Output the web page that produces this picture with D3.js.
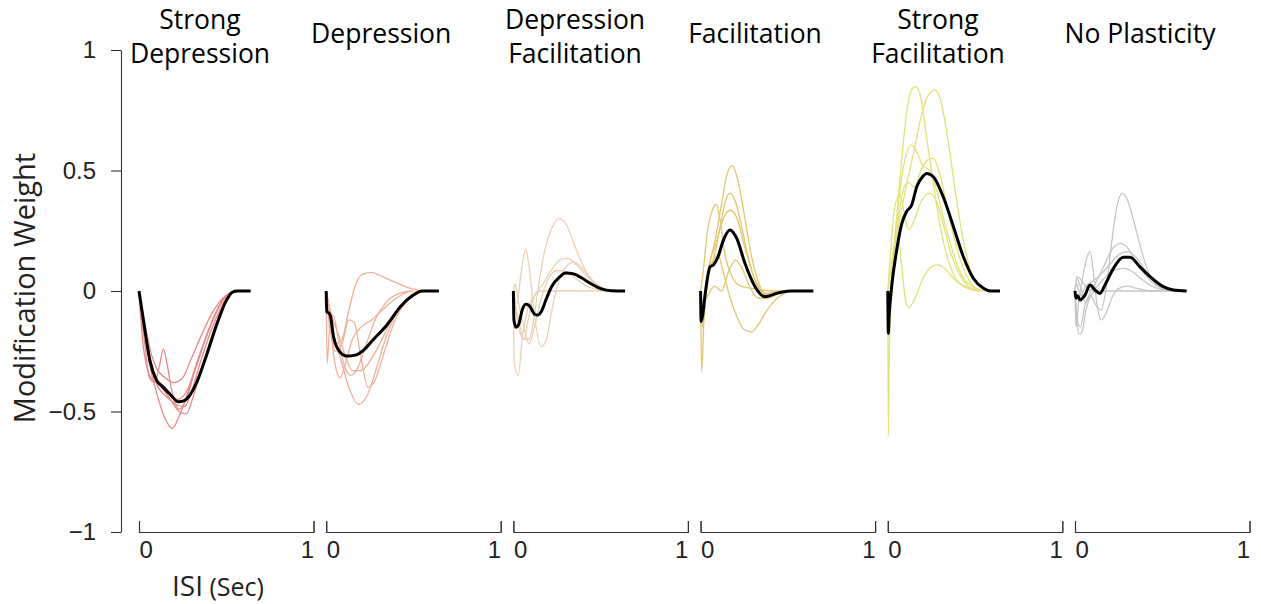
<!DOCTYPE html>
<html><head><meta charset="utf-8">
<script src="https://cdn.jsdelivr.net/npm/d3@7"></script>
<style>body{margin:0;background:#fff}</style>
</head><body><svg id="c" width="1261" height="604"></svg>
<script>
// ---------- data ----------
const panelTitles = [["Strong","Depression"],["Depression"],["Depression","Facilitation"],["Facilitation"],["Strong","Facilitation"],["No Plasticity"]];
const yTicks = [-1,-0.5,0,0.5,1];
const isiTicks = [0,1];
const panelColors = ["#e98a8a","#f0b09a","#e8d2b4","#e3c66e","#e2e27a","#c6c6c6"];

// Strong Depression
const meanStrongDep = [[0,0],[0.025,-0.12],[0.063,-0.29],[0.1,-0.37],[0.14,-0.4],[0.18,-0.43],[0.226,-0.46],[0.26,-0.455],[0.283,-0.44],[0.33,-0.38],[0.39,-0.26],[0.45,-0.13],[0.5,-0.04],[0.535,-0.005],[0.56,0],[0.64,0]];
const cellsStrongDep = [
 [[0,0],[0.03,-0.15],[0.06,-0.3],[0.1,-0.42],[0.15,-0.53],[0.19,-0.57],[0.23,-0.52],[0.28,-0.42],[0.33,-0.3],[0.39,-0.18],[0.45,-0.08],[0.5,-0.02],[0.55,0]],
 [[0,0],[0.03,-0.2],[0.06,-0.36],[0.09,-0.38],[0.12,-0.3],[0.14,-0.24],[0.16,-0.3],[0.19,-0.42],[0.23,-0.49],[0.27,-0.45],[0.32,-0.33],[0.38,-0.2],[0.44,-0.09],[0.5,-0.02],[0.55,0]],
 [[0,0],[0.03,-0.12],[0.07,-0.26],[0.1,-0.32],[0.15,-0.36],[0.2,-0.38],[0.25,-0.36],[0.3,-0.28],[0.36,-0.18],[0.42,-0.09],[0.48,-0.03],[0.55,0]],
 [[0,0],[0.03,-0.15],[0.07,-0.32],[0.11,-0.4],[0.16,-0.44],[0.21,-0.47],[0.26,-0.48],[0.3,-0.42],[0.35,-0.3],[0.41,-0.17],[0.47,-0.07],[0.52,-0.01],[0.56,0]],
 [[0,0],[0.04,-0.18],[0.08,-0.33],[0.13,-0.4],[0.18,-0.45],[0.23,-0.5],[0.27,-0.51],[0.31,-0.44],[0.36,-0.32],[0.42,-0.18],[0.48,-0.07],[0.53,-0.01],[0.57,0]],
 [[0,0],[0.02,-0.2],[0.05,-0.33],[0.08,-0.37],[0.12,-0.38],[0.17,-0.42],[0.22,-0.45],[0.27,-0.42],[0.32,-0.33],[0.38,-0.2],[0.44,-0.09],[0.5,-0.02],[0.55,0]]
];
// Depression
const meanDep = [[0,0],[0.003,-0.086],[0.012,-0.09],[0.023,-0.1],[0.042,-0.19],[0.071,-0.245],[0.119,-0.27],[0.167,-0.266],[0.215,-0.245],[0.272,-0.2],[0.349,-0.14],[0.425,-0.065],[0.5,-0.017],[0.55,0],[0.646,0]];
const cellsDep = [
 [[0,0],[0.02,-0.15],[0.05,-0.22],[0.09,-0.2],[0.13,-0.08],[0.17,0.03],[0.21,0.07],[0.26,0.077],[0.32,0.06],[0.4,0.035],[0.48,0.012],[0.55,0]],
 [[0,0],[0.02,-0.08],[0.05,-0.2],[0.09,-0.3],[0.13,-0.4],[0.185,-0.47],[0.23,-0.44],[0.28,-0.34],[0.33,-0.22],[0.39,-0.11],[0.46,-0.04],[0.53,0]],
 [[0,0],[0.005,-0.3],[0.02,-0.15],[0.04,-0.1],[0.07,-0.2],[0.1,-0.3],[0.14,-0.35],[0.18,-0.32],[0.23,-0.22],[0.28,-0.12],[0.34,-0.05],[0.42,-0.01],[0.5,0]],
 [[0,0],[0.02,-0.1],[0.05,-0.25],[0.09,-0.22],[0.13,-0.12],[0.16,-0.13],[0.2,-0.28],[0.24,-0.4],[0.28,-0.37],[0.33,-0.26],[0.39,-0.13],[0.46,-0.04],[0.53,0]],
 [[0,0],[0.02,-0.12],[0.05,-0.3],[0.08,-0.36],[0.11,-0.3],[0.15,-0.2],[0.2,-0.15],[0.26,-0.12],[0.32,-0.08],[0.4,-0.03],[0.48,0]],
 [[0,0],[0.03,-0.1],[0.07,-0.18],[0.11,-0.27],[0.15,-0.33],[0.2,-0.33],[0.26,-0.28],[0.32,-0.2],[0.38,-0.11],[0.45,-0.04],[0.52,0]]
];
// Depression Facilitation
const meanDepFac = [[0,0],[0.003,-0.12],[0.015,-0.15],[0.03,-0.14],[0.05,-0.08],[0.07,-0.055],[0.09,-0.06],[0.12,-0.095],[0.14,-0.1],[0.16,-0.085],[0.19,-0.03],[0.22,0.02],[0.26,0.055],[0.3,0.075],[0.34,0.072],[0.39,0.055],[0.44,0.032],[0.5,0.01],[0.56,0.001],[0.64,0]];
const cellsDepFac = [
 [[0,0],[0.01,-0.05],[0.03,-0.12],[0.06,-0.2],[0.09,-0.2],[0.12,-0.1],[0.15,0.05],[0.18,0.17],[0.22,0.26],[0.26,0.3],[0.3,0.28],[0.34,0.21],[0.39,0.12],[0.44,0.05],[0.5,0.012],[0.56,0]],
 [[0,0],[0.02,-0.05],[0.045,0.08],[0.07,0.175],[0.09,0.1],[0.12,-0.1],[0.16,-0.23],[0.19,-0.2],[0.22,-0.08],[0.26,0.04],[0.3,0.1],[0.35,0.12],[0.4,0.09],[0.46,0.04],[0.52,0.01],[0.57,0]],
 [[0,0],[0.005,-0.3],[0.028,-0.35],[0.05,-0.2],[0.08,-0.08],[0.12,-0.02],[0.17,0.03],[0.22,0.09],[0.27,0.13],[0.31,0.135],[0.36,0.11],[0.41,0.07],[0.47,0.03],[0.53,0.008],[0.58,0]],
 [[0,0],[0.01,0.03],[0.03,-0.05],[0.06,-0.15],[0.09,-0.22],[0.12,-0.15],[0.16,-0.03],[0.2,0.05],[0.25,0.085],[0.3,0.08],[0.36,0.05],[0.42,0.02],[0.5,0.005],[0.56,0]],
 [[0,0],[0.01,-0.05],[0.03,-0.15],[0.06,-0.2],[0.09,-0.1],[0.12,-0.02],[0.16,0],[0.6,0]]
];
// Facilitation
const meanFac = [[0,0],[0.003,-0.127],[0.012,-0.1],[0.025,-0.02],[0.054,0.1],[0.073,0.108],[0.1,0.142],[0.13,0.21],[0.168,0.253],[0.207,0.218],[0.254,0.115],[0.312,0.018],[0.369,-0.024],[0.436,-0.01],[0.512,0],[0.646,0]];
const cellsFac = [
 [[0,0],[0.01,-0.05],[0.04,0.08],[0.08,0.2],[0.12,0.36],[0.15,0.48],[0.18,0.52],[0.21,0.47],[0.25,0.32],[0.29,0.15],[0.33,0.04],[0.38,-0.02],[0.44,-0.01],[0.5,0],[0.56,0]],
 [[0,0],[0.01,-0.15],[0.04,0.05],[0.08,0.15],[0.12,0.3],[0.15,0.39],[0.17,0.405],[0.2,0.37],[0.24,0.25],[0.28,0.12],[0.32,0.03],[0.37,-0.01],[0.44,-0.005],[0.52,0]],
 [[0,0],[0.006,-0.335],[0.02,-0.1],[0.05,0.1],[0.09,0.2],[0.13,0.3],[0.17,0.335],[0.21,0.3],[0.25,0.19],[0.3,0.07],[0.35,0],[0.4,-0.02],[0.47,-0.005],[0.54,0]],
 [[0,0],[0.01,0.05],[0.04,0.25],[0.07,0.34],[0.09,0.36],[0.11,0.3],[0.14,0.15],[0.18,0.06],[0.23,0.02],[0.3,0.01],[0.4,0],[0.5,0]],
 [[0,0],[0.01,-0.05],[0.04,-0.02],[0.08,0.02],[0.12,0],[0.16,0.08],[0.2,0.128],[0.24,0.09],[0.28,0.02],[0.33,-0.03],[0.38,-0.03],[0.45,-0.01],[0.52,0]],
 [[0,0],[0.01,-0.1],[0.04,0.05],[0.07,0.12],[0.1,0.15],[0.13,0.08],[0.17,-0.03],[0.21,-0.11],[0.25,-0.16],[0.29,-0.17],[0.33,-0.14],[0.38,-0.08],[0.44,-0.03],[0.5,-0.005],[0.56,0]]
];
// Strong Facilitation
const meanStrongFac = [[0,0],[0.003,-0.176],[0.008,-0.1],[0.022,0.018],[0.051,0.17],[0.08,0.28],[0.108,0.33],[0.137,0.357],[0.166,0.433],[0.2,0.475],[0.223,0.488],[0.261,0.474],[0.318,0.39],[0.376,0.267],[0.433,0.142],[0.49,0.053],[0.548,0.011],[0.586,0],[0.643,0]];
const cellsStrongFac = [
 [[0,0],[0.005,-0.1],[0.02,0.05],[0.05,0.3],[0.08,0.55],[0.11,0.75],[0.14,0.84],[0.16,0.848],[0.19,0.8],[0.22,0.65],[0.26,0.45],[0.3,0.27],[0.35,0.12],[0.4,0.04],[0.46,0.01],[0.53,0]],
 [[0,0],[0.003,-0.6],[0.01,-0.2],[0.03,0.1],[0.07,0.3],[0.11,0.45],[0.15,0.58],[0.19,0.72],[0.23,0.81],[0.27,0.834],[0.3,0.8],[0.34,0.65],[0.38,0.45],[0.42,0.26],[0.46,0.12],[0.5,0.04],[0.55,0.01],[0.6,0]],
 [[0,0],[0.01,-0.05],[0.04,0.2],[0.07,0.42],[0.1,0.55],[0.137,0.606],[0.17,0.57],[0.2,0.52],[0.24,0.5],[0.28,0.42],[0.32,0.3],[0.37,0.17],[0.42,0.07],[0.48,0.02],[0.54,0]],
 [[0,0],[0.01,-0.1],[0.04,0.15],[0.07,0.35],[0.1,0.44],[0.12,0.45],[0.15,0.43],[0.19,0.5],[0.23,0.545],[0.26,0.55],[0.3,0.48],[0.34,0.35],[0.38,0.22],[0.43,0.1],[0.48,0.03],[0.54,0]],
 [[0,0],[0.01,0.1],[0.04,0.35],[0.07,0.4],[0.1,0.3],[0.12,0.255],[0.15,0.29],[0.19,0.37],[0.24,0.405],[0.28,0.37],[0.32,0.27],[0.36,0.16],[0.41,0.07],[0.46,0.02],[0.52,0]],
 [[0,0],[0.01,0.05],[0.04,0.2],[0.06,0.22],[0.08,0.1],[0.1,-0.03],[0.12,-0.07],[0.15,-0.04],[0.2,0.05],[0.25,0.1],[0.29,0.108],[0.33,0.09],[0.38,0.05],[0.44,0.02],[0.5,0.005],[0.56,0]]
];
// No Plasticity
const meanNoPlast = [[0,0],[0.005,-0.03],[0.015,-0.02],[0.029,-0.037],[0.057,-0.017],[0.086,0.025],[0.115,0.004],[0.143,-0.01],[0.172,0.025],[0.22,0.094],[0.277,0.14],[0.315,0.14],[0.372,0.1],[0.43,0.06],[0.506,0.018],[0.563,0.004],[0.64,0]];
const cellsNoPlast = [
 [[0,0],[0.01,-0.1],[0.03,-0.15],[0.06,-0.05],[0.09,-0.02],[0.12,-0.06],[0.15,-0.08],[0.18,0.02],[0.21,0.2],[0.24,0.35],[0.27,0.405],[0.3,0.38],[0.34,0.28],[0.38,0.17],[0.42,0.08],[0.47,0.025],[0.53,0.005],[0.58,0]],
 [[0,0],[0.01,0.05],[0.03,0.02],[0.06,-0.05],[0.09,0],[0.13,0.05],[0.17,0.11],[0.21,0.17],[0.26,0.198],[0.3,0.18],[0.35,0.12],[0.4,0.07],[0.46,0.025],[0.52,0.005],[0.57,0]],
 [[0,0],[0.01,0.03],[0.03,-0.02],[0.06,0.02],[0.1,0.04],[0.15,0.07],[0.2,0.11],[0.25,0.15],[0.3,0.163],[0.35,0.14],[0.4,0.09],[0.45,0.04],[0.5,0.012],[0.56,0]],
 [[0,0],[0.01,0.06],[0.03,0.05],[0.06,0.02],[0.1,0],[0.14,0.03],[0.19,0.07],[0.24,0.09],[0.28,0.094],[0.33,0.08],[0.38,0.05],[0.44,0.02],[0.5,0.005],[0.56,0]],
 [[0,0],[0.005,-0.15],[0.02,-0.05],[0.04,0.04],[0.065,0.13],[0.086,0.163],[0.105,0.08],[0.125,-0.05],[0.15,-0.12],[0.18,-0.09],[0.21,-0.03],[0.25,0.01],[0.3,0.02],[0.36,0.01],[0.44,0],[0.5,0]],
 [[0,0],[0.01,-0.12],[0.025,-0.18],[0.04,-0.17],[0.06,-0.09],[0.09,-0.02],[0.12,0],[0.6,0]]
];
const panelMeans = [meanStrongDep, meanDep, meanDepFac, meanFac, meanStrongFac, meanNoPlast];
const panelCells = [cellsStrongDep, cellsDep, cellsDepFac, cellsFac, cellsStrongFac, cellsNoPlast];

// ---------- layout ----------
const yTop = 50, yBot = 532;
const panelX0 = 139, panelStep = 187.2, panelW = 174.5;
const titleOffset = [61, 55, 61.6, 54.4, 50.2, 65];
const titleFont = "'Open Sans', 'Noto Sans', sans-serif";
const tickFont = "'Liberation Sans', Arial, sans-serif";

const svg = d3.select("#c");
const y = d3.scaleLinear().domain([-1, 1]).range([yBot, yTop]);
const fmt = d3.format("");

// y axis
const yAx = svg.append("g").attr("transform", "translate(121,0)")
  .call(d3.axisLeft(y).tickValues(yTicks).tickSize(10).tickSizeOuter(0).tickPadding(15)
    .tickFormat(d => fmt(d)));
yAx.selectAll("path,line").attr("stroke", "#333").attr("stroke-width", 1.1);
yAx.selectAll("text").attr("font-family", tickFont).attr("font-size", 24).attr("fill", "#222");

const line = d3.line().curve(d3.curveMonotoneX);

panelTitles.forEach((title, i) => {
  const x0 = panelX0 + i * panelStep;
  const x = d3.scaleLinear().domain([0, 1]).range([x0, x0 + panelW]);
  line.x(d => x(d[0])).y(d => y(d[1]));

  // x axis
  const xAx = svg.append("g").attr("transform", `translate(0,${yBot})`)
    .call(d3.axisBottom(x).tickValues(isiTicks).tickSize(-11).tickSizeOuter(-11).tickPadding(9)
      .tickFormat(d => fmt(d)));
  xAx.selectAll("path,line").attr("stroke", "#333").attr("stroke-width", 1.1);
  xAx.selectAll("text").attr("font-family", tickFont).attr("font-size", 24).attr("fill", "#222")
    .attr("text-anchor", d => d === 0 ? "start" : "end");

  // individual curves
  svg.append("g").selectAll("path").data(panelCells[i]).join("path")
    .attr("d", line).attr("fill", "none")
    .attr("stroke", panelColors[i]).attr("stroke-width", 1.3);
  // mean
  svg.append("path").datum(panelMeans[i]).attr("d", line).attr("fill", "none")
    .attr("stroke", "#000").attr("stroke-width", 3).attr("stroke-linejoin", "round");

  // title
  const t = svg.append("text").attr("x", x0 + titleOffset[i]).attr("text-anchor", "middle")
    .attr("font-family", titleFont).attr("font-size", 26.5).attr("fill", "#000");
  const baselines = title.length === 2 ? [28.5, 63] : [43];
  title.forEach((s, k) => t.append("tspan").attr("x", x0 + titleOffset[i]).attr("y", baselines[k]).text(s));
});

// axis titles
svg.append("text").attr("transform", "translate(35,288) rotate(-90)")
  .attr("text-anchor", "middle").attr("font-family", titleFont).attr("font-size", 29).attr("fill", "#222")
  .text("Modification Weight");
const isi = svg.append("text").attr("x", 172).attr("y", 596).attr("font-family", titleFont).attr("fill", "#222");
isi.append("tspan").attr("font-size", 28).text("ISI");
isi.append("tspan").attr("font-size", 25).text(" (Sec)");
</script></body></html>
